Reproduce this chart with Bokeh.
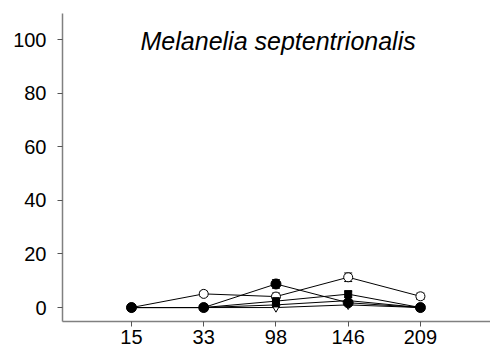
from bokeh.plotting import figure
from bokeh.models import FixedTicker, Range1d, Label, Whisker, ColumnDataSource, TeeHead
from bokeh.embed import file_html
from bokeh.resources import INLINE

# categories (depths) and series values (%)
categories = ["15", "33", "98", "146", "209"]
open_circle = [0, 5.1, 4.1, 11.3, 4.2]
open_circle_err = [0, 1.0, 1.3, 1.6, 1.2]
filled_circle = [0, 0, 8.8, 1.8, 0]
filled_circle_err = [0, 0, 1.6, 0.5, 0]
filled_square = [0, 0, 2.4, 5.0, 0]
filled_square_err = [0, 0, 0.8, 1.2, 0]
open_triangle = [0, 0, 0, 1.0, 0]
filled_triangle = [0, 0, 1.0, 2.6, 0]
title_text = "Melanelia septentrionalis"
y_ticks = [0, 20, 40, 60, 80, 100]

xs = list(range(1, len(categories) + 1))
FONT = "Liberation Sans"

p = figure(width=490, height=354, output_backend="svg", toolbar_location=None,
           x_range=Range1d(0.045, 5.97), y_range=Range1d(-5.2, 109.7),
           min_border_left=62, min_border_right=0, min_border_top=13, min_border_bottom=33)
p.background_fill_color = "white"
p.border_fill_color = "white"
p.outline_line_color = None
p.grid.visible = False

for ax in (p.xaxis[0], p.yaxis[0]):
    ax.axis_line_color = "#808080"
    ax.axis_line_width = 1.5
    ax.major_tick_line_color = "#555555"
    ax.major_tick_in = 0
    ax.major_tick_out = 5
    ax.minor_tick_line_color = None
    ax.major_label_text_font = FONT
    ax.major_label_text_font_size = "20px"
    ax.major_label_text_color = "black"

p.xaxis.ticker = FixedTicker(ticks=xs)
p.xaxis.major_label_overrides = {x: c for x, c in zip(xs, categories)}
p.xaxis.major_label_standoff = 3
p.yaxis.ticker = FixedTicker(ticks=y_ticks)
p.yaxis.major_label_standoff = 11

def add_series(vals, err, marker, fill, size):
    src = ColumnDataSource(dict(x=xs, y=vals))
    p.line("x", "y", source=src, line_color="black", line_width=1)
    if err is not None:
        esrc = ColumnDataSource(dict(x=xs, lo=[v - e for v, e in zip(vals, err)],
                                     hi=[v + e for v, e in zip(vals, err)]))
        w = Whisker(base="x", lower="lo", upper="hi", source=esrc, line_color="black", line_width=1,
                    upper_head=TeeHead(size=8, line_color="black"),
                    lower_head=TeeHead(size=8, line_color="black"))
        p.add_layout(w)
    p.scatter("x", "y", source=src, marker=marker, size=size, line_color="black",
              fill_color=fill, line_width=1)

add_series(open_circle, open_circle_err, "circle", "white", 9)
add_series(open_triangle, None, "inverted_triangle", "white", 8)
add_series(filled_triangle, None, "triangle", "black", 7)
add_series(filled_square, filled_square_err, "square", "black", 7)
add_series(filled_circle, filled_circle_err, "circle", "black", 10)

p.add_layout(Label(x=3.03, y=99.6, text=title_text, text_font=FONT, text_font_size="25px",
                   text_font_style="italic", text_align="center", text_baseline="middle",
                   text_color="black"))

open("out.html", "w").write(file_html(p, INLINE))
